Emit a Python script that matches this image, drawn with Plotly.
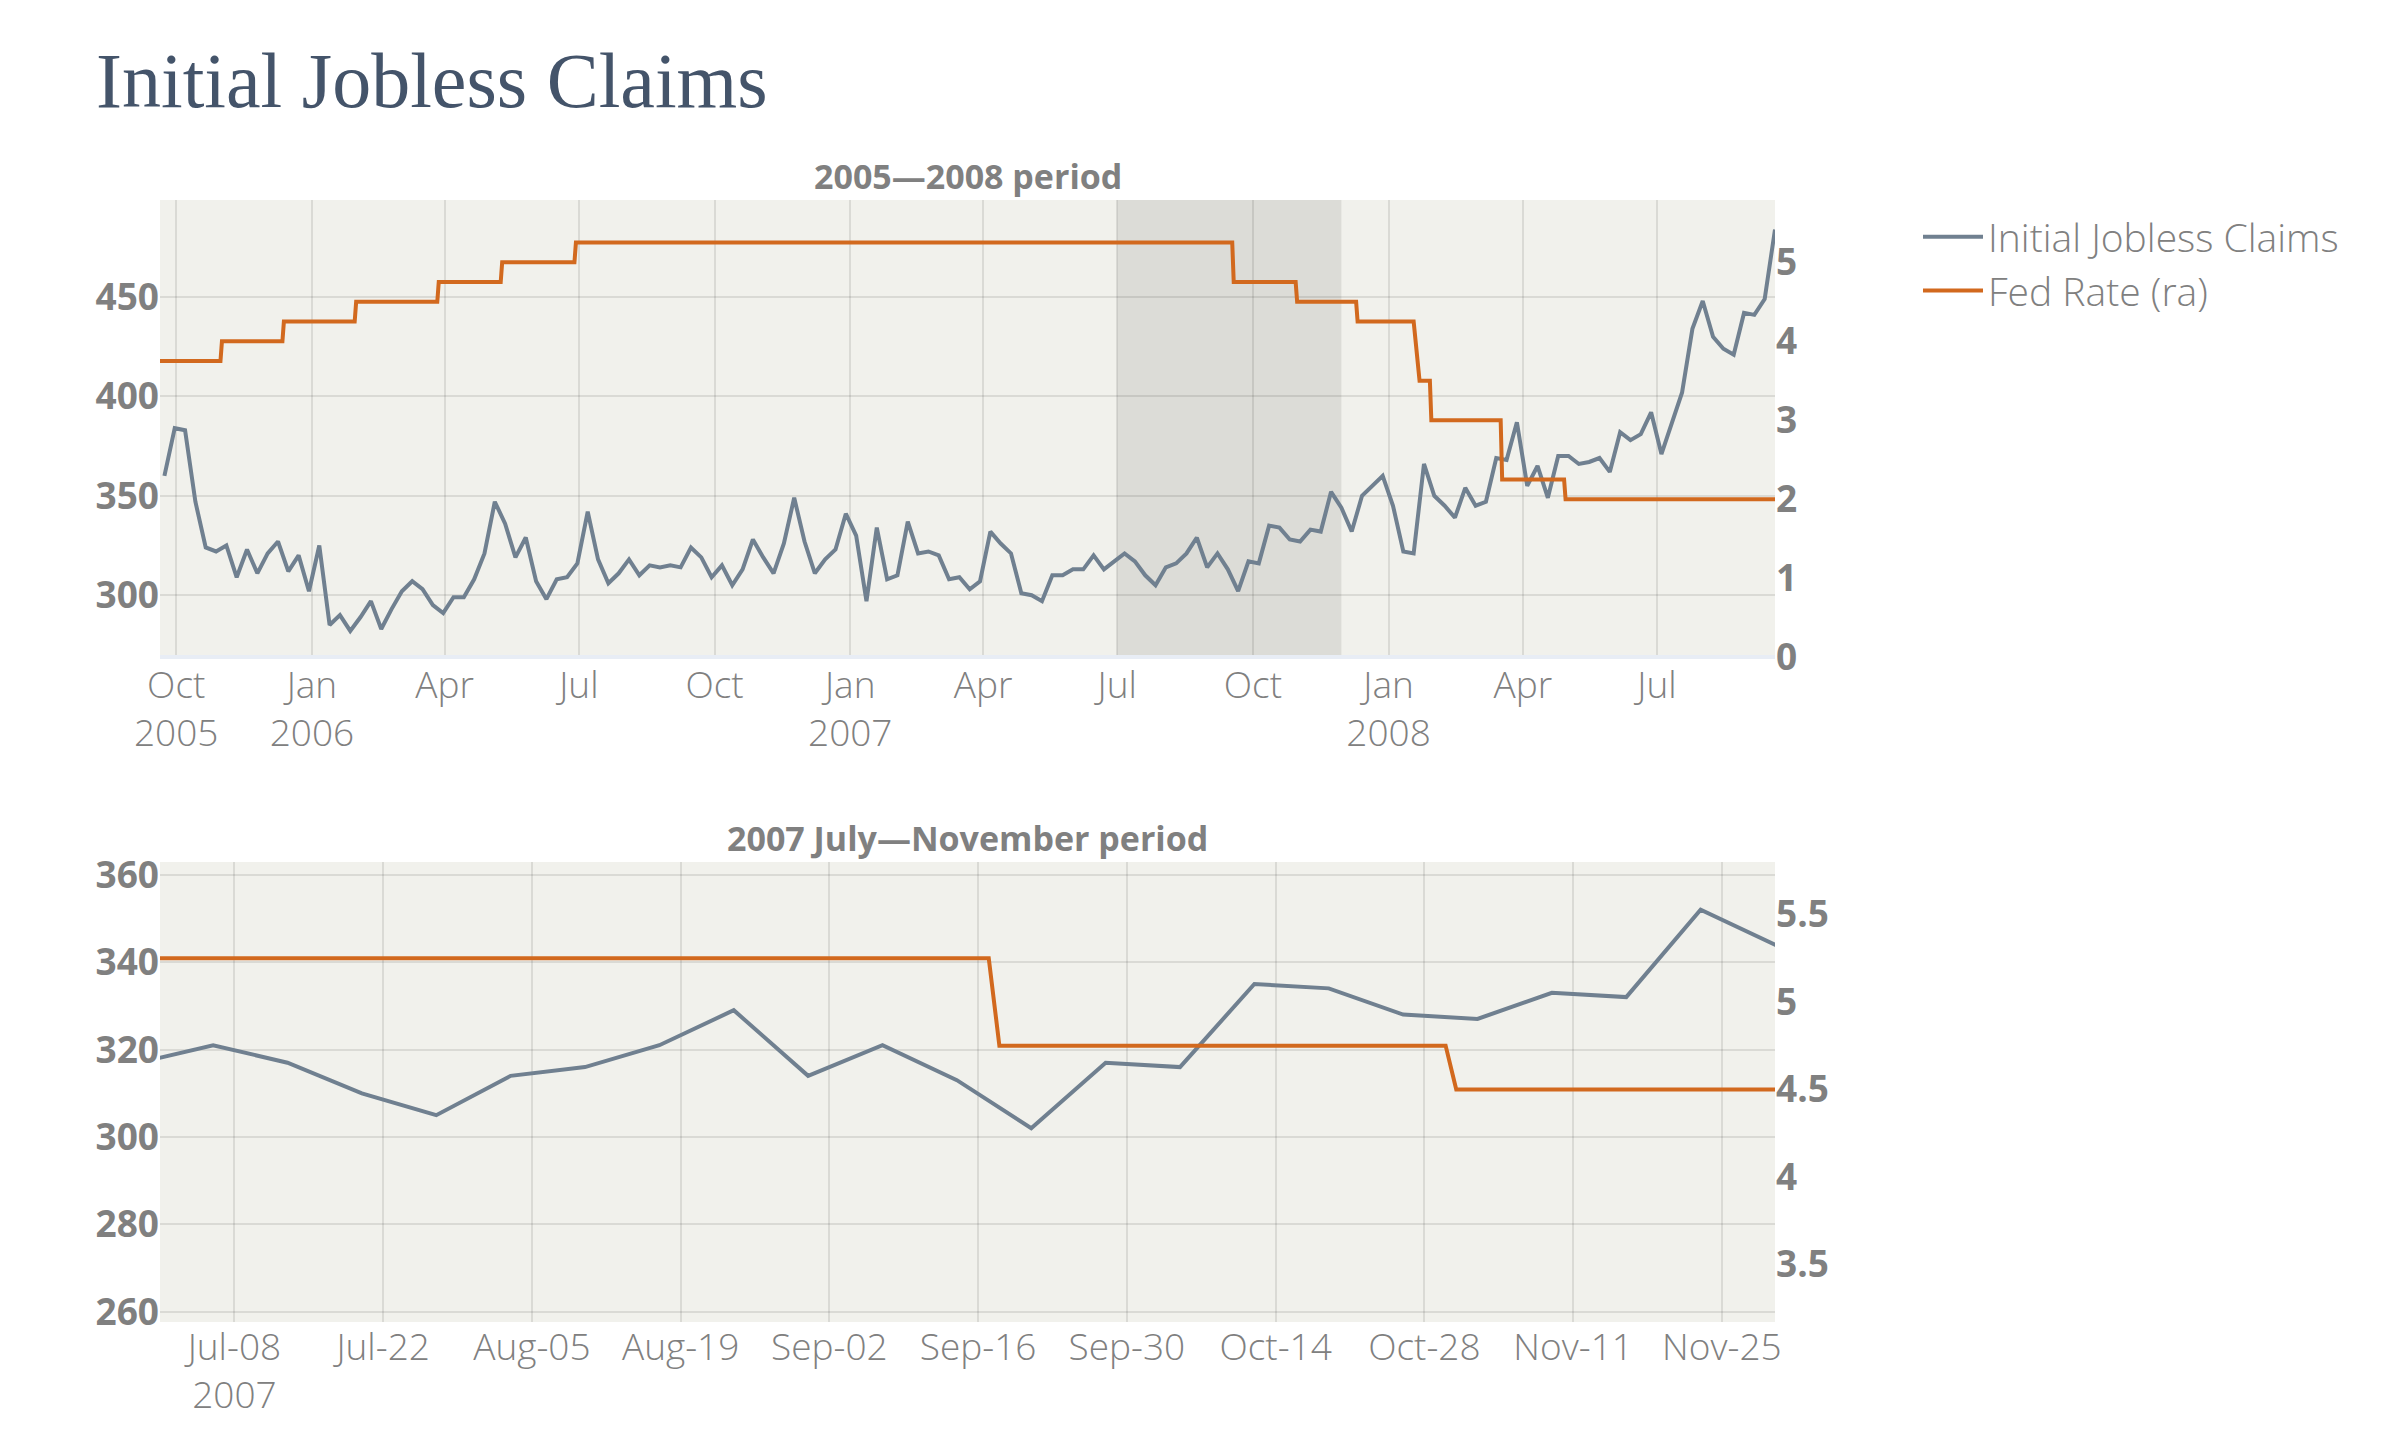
import pandas as pd
import plotly.graph_objects as go

# ---------------- data ----------------
# Weekly initial jobless claims (thousands), one value per week starting 2005-09-23
claims_start = "2005-09-23"
claims = [
    360, 384, 383, 347, 324, 322, 325, 309, 323, 311, 321, 327, 312, 320, 302, 325,
    285, 290, 282, 289, 297, 283, 293, 302, 307, 303, 295, 291, 299, 299, 308, 321,
    347, 336, 319, 329, 307, 298, 308, 309, 316, 342, 318, 306, 311, 318, 310, 315,
    314, 315, 314, 324, 319, 309, 315, 305, 313, 328, 319, 311, 326, 349, 327, 311,
    318, 323, 341, 330, 297, 334, 308, 310, 337, 321, 322, 320, 308, 309, 303, 307,
    332, 326, 321, 301, 300, 297, 310, 310, 313, 313, 320, 313, 317, 321, 317, 310,
    305, 314, 316, 321, 329, 314, 321, 313, 302, 317, 316, 335, 334, 328, 327, 333,
    332, 352, 344, 332, 350, 355, 360, 345, 322, 321, 366, 350, 345, 339, 354, 345,
    347, 369, 368, 387, 355, 365, 349, 370, 370, 366, 367, 369, 362, 382, 378, 381,
    392, 371, 386, 402, 434, 448, 430, 424, 421, 442, 441, 449, 484,
]
claims_dates = pd.date_range(claims_start, periods=len(claims), freq="7D")

# Fed funds target rate (%), vertices of the business-daily step series
fed_dates = [
    "2005-09-20", "2005-10-31", "2005-11-01", "2005-12-12", "2005-12-13",
    "2006-01-30", "2006-01-31", "2006-03-27", "2006-03-28", "2006-05-09",
    "2006-05-10", "2006-06-28", "2006-06-29", "2007-09-17", "2007-09-18",
    "2007-10-30", "2007-10-31", "2007-12-10", "2007-12-11", "2008-01-18",
    "2008-01-22", "2008-01-29", "2008-01-30", "2008-03-17", "2008-03-18",
    "2008-04-29", "2008-04-30", "2008-09-19",
]
fed_rates = [
    3.75, 3.75, 4.00, 4.00, 4.25,
    4.25, 4.50, 4.50, 4.75, 4.75,
    5.00, 5.00, 5.25, 5.25, 4.75,
    4.75, 4.50, 4.50, 4.25, 4.25,
    3.50, 3.50, 3.00, 3.00, 2.25,
    2.25, 2.00, 2.00,
]

focus_period = ["2007-07-01", "2007-11-30"]
top_x_range = ["2005-09-20", "2008-09-19"]
top_left_range = [268.9, 498.8]
top_right_range = [0, 5.79]
bottom_left_range = [257.7, 362.9]
bottom_right_range = [3.17, 5.80]

title_text = "Initial Jobless Claims"
top_subtitle = "2005\u20142008 period"
bottom_subtitle = "2007 July\u2014November period"
claims_name = "Initial Jobless Claims"
fed_name = "Fed Rate (ra)"

# ---------------- styles ----------------
GRAY = "#808080"
CLAIMS_COLOR = "#708090"
FED_COLOR = "#D2691E"
GRID = "rgba(0,0,0,0.095)"
SANS = "Open Sans"

xtick_font = dict(family=SANS, size=37, color=GRAY, weight=300)
ytick_font = dict(family=SANS, size=37, color=GRAY, weight=700)

W, H = 2400, 1440
OFF = 8  # page body margin in the browser
# target plot-area pixels in the screenshot
PL, PR = 160, 1775
TOP_T, TOP_B = 200, 657
BOT_T, BOT_B = 862, 1322

ML = PL - OFF
MR = W - (PR - OFF)
MT = TOP_T - OFF
MB = H - (BOT_B - OFF)
PH = H - MT - MB


def py(px):
    """screenshot pixel row -> paper y"""
    return (H - MB - (px - OFF)) / PH


fig = go.Figure()

fig.add_trace(go.Scatter(x=claims_dates, y=claims, name=claims_name, mode="lines",
                         line=dict(color=CLAIMS_COLOR, width=4),
                         xaxis="x", yaxis="y"))
fig.add_trace(go.Scatter(x=fed_dates, y=fed_rates, name=fed_name, mode="lines",
                         line=dict(color=FED_COLOR, width=4),
                         xaxis="x", yaxis="y2"))
fig.add_trace(go.Scatter(x=claims_dates, y=claims, name=claims_name, mode="lines",
                         line=dict(color=CLAIMS_COLOR, width=4), showlegend=False,
                         xaxis="x2", yaxis="y3"))
fig.add_trace(go.Scatter(x=fed_dates, y=fed_rates, name=fed_name, mode="lines",
                         line=dict(color=FED_COLOR, width=4), showlegend=False,
                         xaxis="x2", yaxis="y4"))

common_x = dict(showgrid=True, gridcolor=GRID, gridwidth=2, zeroline=False,
                showline=False, ticks="", tickfont=xtick_font, automargin=False,
                tickangle=0)
common_y = dict(showgrid=True, gridcolor=GRID, gridwidth=2, zeroline=False,
                showline=False, ticks="", tickfont=ytick_font, automargin=False)

top_dom = [py(TOP_B), 1.0]
bot_dom = [0.0, py(BOT_T)]

fig.update_layout(
    template="plotly_white",
    width=W, height=H,
    margin=dict(l=ML, r=MR, t=MT, b=MB),
    paper_bgcolor="white",
    plot_bgcolor="#F1F1EC",
    title=dict(text=title_text, x=(96 - OFF) / W, xref="container", xanchor="left",
               y=1 - (80 - OFF) / H, yref="container", yanchor="middle",
               font=dict(family="Liberation Serif", size=78, color="#44546A")),
    xaxis=dict(common_x, domain=[0, 1], anchor="y", range=top_x_range,
               dtick="M3", tick0="2005-01-01", tickformat="%b\n%Y",
               ticklabelstandoff=3),
    yaxis=dict(common_y, domain=top_dom, anchor="x", range=top_left_range, dtick=50),
    yaxis2=dict(common_y, overlaying="y", side="right", anchor="x",
                range=top_right_range, dtick=1, showgrid=False,
                zeroline=True, zerolinecolor="#E8EDF5", zerolinewidth=4),
    xaxis2=dict(common_x, domain=[0, 1], anchor="y3", range=focus_period,
                dtick=14 * 24 * 3600 * 1000, tick0="2007-07-08",
                tickformat="%b-%d\n%Y"),
    yaxis3=dict(common_y, domain=bot_dom, anchor="x2", range=bottom_left_range, dtick=20),
    yaxis4=dict(common_y, overlaying="y3", side="right", anchor="x2",
                range=bottom_right_range, dtick=0.5, showgrid=False),
    legend=dict(x=(1918 - PL) / (PR - PL), y=py(205), xanchor="left", yanchor="top",
                font=dict(family=SANS, size=39, color=GRAY, weight=300),
                itemwidth=60, tracegroupgap=0, bgcolor="rgba(0,0,0,0)", borderwidth=0),
    showlegend=True,
    hovermode=False,
)

fig.add_shape(type="rect", xref="x", yref="y domain",
              x0=focus_period[0], x1=focus_period[1], y0=0, y1=1,
              fillcolor="rgba(0,0,0,0.087)", line=dict(width=0), layer="below")

sub_font = dict(family=SANS, size=34, color=GRAY, weight=700)
fig.add_annotation(text=top_subtitle, xref="paper", yref="paper", x=0.5, y=py(176),
                   xanchor="center", yanchor="middle", showarrow=False, font=sub_font)
fig.add_annotation(text=bottom_subtitle, xref="paper", yref="paper", x=0.5, y=py(838),
                   xanchor="center", yanchor="middle", showarrow=False, font=sub_font)

fig.write_html("out.html")
